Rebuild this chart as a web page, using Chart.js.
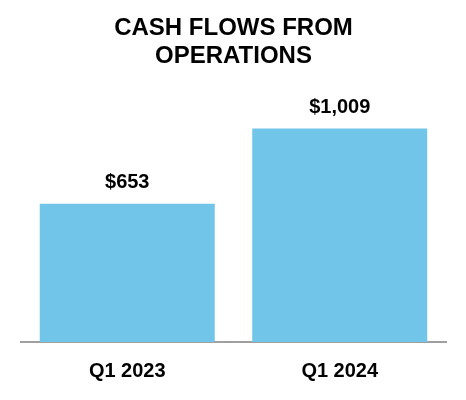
<!DOCTYPE html>
<html>
<head>
<meta charset="utf-8">
<script src="https://cdn.jsdelivr.net/npm/chart.js@4.4.1/dist/chart.umd.min.js"></script>
<style>
  html, body { margin: 0; padding: 0; background: #ffffff; }
  #wrap { width: 466px; height: 400px; }
</style>
</head>
<body>
<div id="wrap"><canvas id="c" width="466" height="400"></canvas></div>
<script>
const categories = ["Q1 2023", "Q1 2024"];
const cashFlows = [653, 1009];
const valueLabels = ["$653", "$1,009"];
const titleLines = ["CASH FLOWS FROM", "OPERATIONS"];

const FONT = "'Liberation Sans', Arial, Helvetica, sans-serif";

const valueLabelPlugin = {
  id: 'valueLabels',
  afterDatasetsDraw(chart) {
    const ctx = chart.ctx;
    const meta = chart.getDatasetMeta(0);
    ctx.save();
    ctx.font = "bold 20px " + FONT;
    ctx.fillStyle = '#000000';
    ctx.textAlign = 'center';
    ctx.textBaseline = 'alphabetic';
    meta.data.forEach((bar, i) => {
      ctx.fillText(valueLabels[i], bar.x, bar.y - 16);
    });
    ctx.restore();
  }
};

new Chart(document.getElementById('c'), {
  type: 'bar',
  data: {
    labels: categories,
    datasets: [{
      data: cashFlows,
      backgroundColor: '#71C5E8',
      borderWidth: 0,
      barPercentage: 0.9,
      categoryPercentage: 0.915
    }]
  },
  options: {
    responsive: false,
    animation: false,
    devicePixelRatio: 1,
    layout: { padding: { left: 21, right: 20, top: 0, bottom: 0 } },
    plugins: {
      legend: { display: false },
      tooltip: { enabled: false },
      title: {
        display: true,
        text: titleLines,
        color: '#000000',
        font: { family: FONT, size: 24, weight: 'bold', lineHeight: 1.19 },
        padding: { top: 14, bottom: 17 }
      }
    },
    scales: {
      x: {
        grid: { display: false, drawTicks: false },
        border: { display: true, color: '#A0A0A0', width: 2 },
        ticks: {
          color: '#000000',
          padding: 17,
          font: { family: FONT, size: 20, weight: 'bold', lineHeight: 1.2 }
        }
      },
      y: {
        display: false,
        min: 0,
        max: 1200
      }
    }
  },
  plugins: [valueLabelPlugin]
});
</script>
</body>
</html>
